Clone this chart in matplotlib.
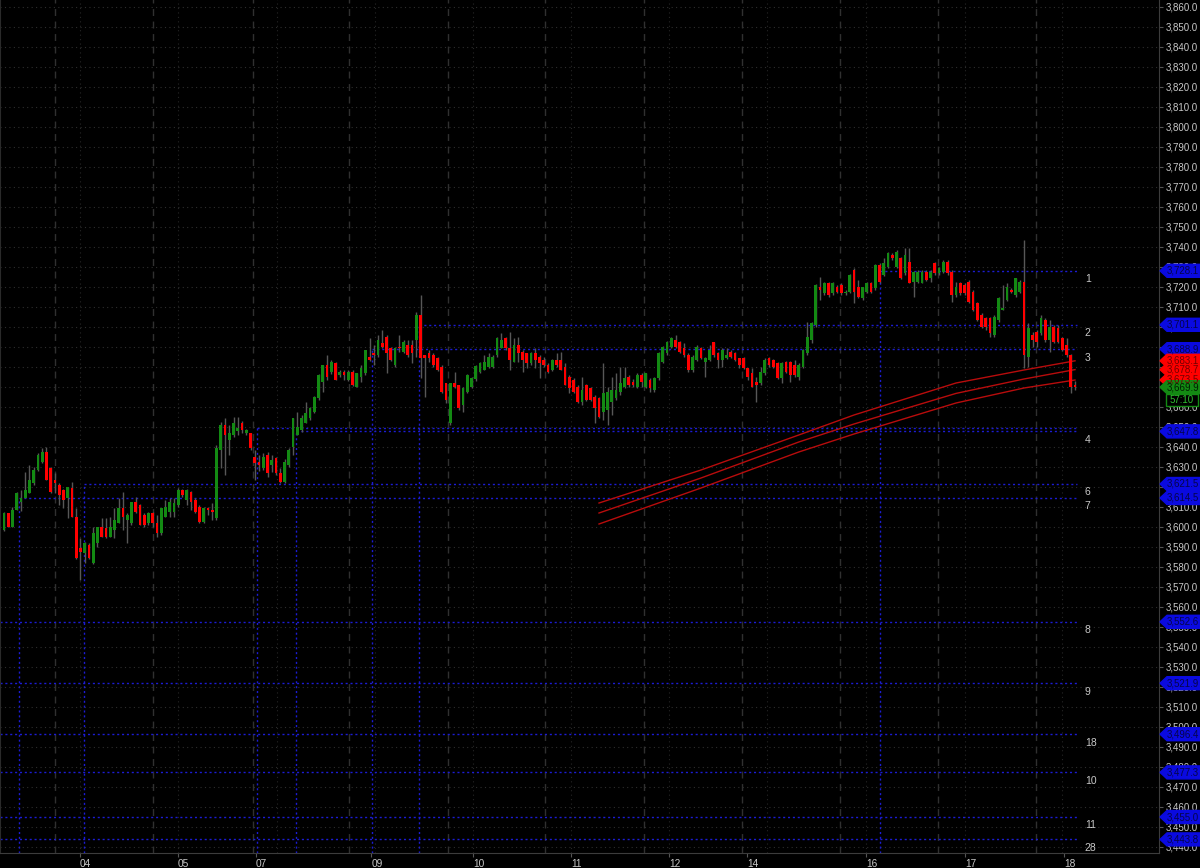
import numpy as np
import matplotlib
matplotlib.use("Agg")
import matplotlib.pyplot as plt
from matplotlib.patches import Polygon, Rectangle

plt.rcParams['font.family'] = ['Liberation Sans Narrow', 'Liberation Sans', 'DejaVu Sans']

# candles, left to right (one bar every 4.25 px)
opens = [
    3598.5, 3606.8, 3600.2, 3608.5, 3612.5, 3614.3, 3616.8, 3621.8, 3628.5, 3632.7,
    3637.7, 3629.3, 3623.5, 3621.0, 3618.5, 3614.3, 3619.3, 3605.2, 3589.3, 3586.8,
    3591.0, 3581.8, 3591.8, 3600.2, 3599.3, 3595.2, 3598.5, 3601.8, 3609.3, 3603.5,
    3601.8, 3612.7, 3611.0, 3606.0, 3601.8, 3606.8, 3601.8, 3596.8, 3605.2, 3607.7,
    3607.7, 3611.0, 3618.5, 3613.5, 3617.7, 3613.5, 3610.2, 3602.7, 3609.7, 3608.5,
    3604.3,
    3638.5, 3651.0, 3643.5, 3646.0, 3648.0, 3651.8, 3646.8, 3646.8, 3635.2, 3632.7,
    3629.3, 3636.0, 3631.0, 3634.3, 3626.8, 3622.7, 3631.0, 3640.2, 3646.0, 3648.5,
    3651.8, 3654.3, 3657.7, 3664.3, 3672.7, 3681.0, 3677.7, 3681.8, 3676.0, 3677.7,
    3673.5, 3677.7, 3670.2, 3675.2, 3676.8, 3685.0, 3687.0, 3686.0, 3692.0, 3695.2,
    3689.3, 3681.0, 3690.2, 3687.7, 3691.0, 3691.0, 3693.5, 3706.0, 3686.0,
    3687.0, 3686.0, 3684.3, 3680.2, 3671.8, 3651.8, 3672.0, 3671.0, 3661.0, 3667.7,
    3670.2, 3673.8, 3677.7, 3678.5, 3680.2, 3680.2, 3686.0, 3689.3, 3694.3, 3689.3,
    3682.7, 3691.0, 3687.7, 3686.8, 3681.8, 3686.8, 3685.2, 3683.5, 3681.0, 3678.5,
    3683.5, 3683.5, 3680.2, 3675.2, 3673.5, 3670.2, 3662.7, 3671.0, 3669.3, 3665.2,
    3664.3, 3657.7, 3658.5, 3662.7, 3664.3, 3667.7, 3670.2, 3675.2, 3672.7, 3670.2,
    3676.0,
    3670.2, 3673.5, 3668.5, 3674.3, 3682.7, 3686.8, 3690.2, 3693.5, 3692.7, 3689.3,
    3686.0, 3678.5, 3683.5, 3689.3, 3682.7, 3683.5, 3692.7, 3686.8, 3683.5, 3684.3,
    3687.7, 3686.8, 3684.3, 3684.3, 3679.3, 3676.8, 3672.7, 3671.8, 3676.8, 3684.3,
    3683.5, 3681.8, 3674.3, 3682.7, 3682.7, 3681.0, 3675.2, 3680.2, 3686.8, 3693.5,
    3701.0, 3720.2, 3716.8, 3721.8, 3716.8, 3720.2, 3721.0, 3716.8, 3717.7, 3728.5,
    3720.2, 3714.3, 3717.7, 3721.8, 3719.3, 3731.0, 3726.0, 3730.2, 3736.0, 3730.2,
    3734.3, 3726.8, 3732.7, 3722.7, 3722.7, 3722.0, 3727.7, 3724.3, 3731.8, 3726.8,
    3727.7, 3732.7, 3727.7, 3716.0, 3721.8, 3721.0, 3722.7, 3717.7, 3711.8, 3706.0,
    3704.3, 3704.3, 3696.0, 3703.5, 3708.5, 3713.5, 3718.5, 3716.0, 3717.7, 3722.7,
    3685.2, 3696.0, 3697.7, 3696.8, 3703.5, 3693.5, 3700.2, 3699.3, 3694.3, 3691.0,
    3686.0, 3671.2,
]
closes = [
    3606.8, 3600.2, 3608.5, 3616.8, 3614.5, 3618.5, 3623.5, 3628.5, 3636.0, 3637.7,
    3623.5, 3617.7, 3621.8, 3616.0, 3613.5, 3620.2, 3605.2, 3584.3, 3587.5, 3591.8,
    3584.3, 3596.8, 3600.2, 3595.2, 3595.2, 3600.2, 3603.5, 3609.3, 3605.2, 3606.0,
    3612.7, 3607.7, 3601.0, 3601.0, 3606.8, 3601.8, 3596.8, 3609.3, 3610.2, 3612.7,
    3611.8, 3618.5, 3616.0, 3618.5, 3612.7, 3607.7, 3602.7, 3609.3, 3608.5, 3607.7,
    3639.3,
    3651.0, 3646.0, 3646.8, 3651.8, 3649.7, 3648.5, 3648.5, 3639.3, 3631.8, 3631.0,
    3635.2, 3626.8, 3633.5, 3626.8, 3622.7, 3632.7, 3638.5, 3654.3, 3650.2, 3654.3,
    3656.8, 3659.3, 3665.2, 3676.0, 3681.0, 3675.2, 3682.7, 3673.5, 3677.7, 3676.0,
    3677.7, 3671.0, 3676.8, 3679.3, 3688.5, 3683.5, 3686.0, 3693.5, 3690.2, 3686.8,
    3683.5, 3689.3, 3689.3, 3692.7, 3686.0, 3686.8, 3706.0, 3684.3, 3684.3,
    3684.5, 3681.0, 3678.5, 3667.7, 3663.5, 3671.8, 3670.2, 3659.3, 3669.3, 3676.0,
    3674.3, 3680.5, 3681.8, 3682.7, 3685.2, 3685.2, 3694.3, 3693.5, 3689.3, 3683.5,
    3691.0, 3686.8, 3683.5, 3681.8, 3686.8, 3683.5, 3681.8, 3681.0, 3677.7, 3683.5,
    3681.0, 3678.5, 3671.0, 3669.3, 3667.7, 3662.7, 3668.5, 3663.5, 3663.5, 3659.3,
    3655.2, 3666.8, 3667.7, 3668.5, 3668.5, 3671.8, 3674.3, 3671.0, 3671.0, 3676.0,
    3672.7,
    3676.8, 3669.3, 3674.3, 3686.8, 3690.2, 3692.7, 3694.3, 3690.2, 3687.7, 3686.0,
    3678.5, 3685.2, 3690.2, 3684.3, 3684.3, 3688.5, 3686.0, 3683.5, 3688.5, 3686.0,
    3685.2, 3683.5, 3681.0, 3679.3, 3675.2, 3670.2, 3671.0, 3677.7, 3683.5, 3681.0,
    3680.2, 3674.3, 3681.8, 3677.7, 3676.0, 3676.0, 3681.0, 3688.5, 3695.2, 3701.8,
    3721.0, 3718.5, 3721.8, 3716.0, 3721.8, 3717.7, 3716.8, 3717.7, 3726.0, 3717.7,
    3715.2, 3720.2, 3721.8, 3717.7, 3731.0, 3722.7, 3731.8, 3736.8, 3734.3, 3737.7,
    3724.3, 3736.0, 3721.8, 3727.5, 3727.7, 3727.7, 3723.5, 3727.7, 3726.8, 3729.3,
    3732.7, 3726.8, 3716.0, 3720.2, 3716.8, 3716.8, 3712.7, 3708.5, 3703.5, 3700.2,
    3700.2, 3696.8, 3705.2, 3714.3, 3709.3, 3720.2, 3717.7, 3724.3, 3722.7, 3686.0,
    3699.3, 3693.5, 3692.7, 3704.3, 3693.5, 3700.2, 3692.7, 3692.7, 3688.5, 3686.0,
    3670.2, 3669.9,
]
highs = [
    3607.7, 3607.2, 3610.2, 3617.7, 3618.5, 3627.7, 3631.0, 3630.0, 3637.0, 3639.3,
    3640.2, 3630.0, 3626.8, 3621.8, 3619.0, 3620.2, 3622.7, 3609.3, 3594.3, 3592.7,
    3592.0, 3600.0, 3600.2, 3604.3, 3604.3, 3605.2, 3609.3, 3614.3, 3617.7, 3606.8,
    3612.7, 3615.2, 3611.5, 3606.8, 3607.5, 3607.5, 3606.0, 3609.3, 3613.5, 3614.3,
    3614.3, 3619.3, 3619.0, 3619.0, 3618.0, 3614.3, 3611.0, 3610.0, 3610.2, 3611.8,
    3641.0,
    3652.7, 3654.3, 3651.0, 3655.2, 3655.2, 3653.0, 3649.0, 3647.0, 3638.5, 3636.0,
    3636.8, 3637.7, 3636.0, 3635.2, 3629.3, 3634.0, 3639.3, 3654.3, 3657.7, 3656.0,
    3662.7, 3660.2, 3665.5, 3676.5, 3681.0, 3686.0, 3683.5, 3682.7, 3678.5, 3678.5,
    3678.5, 3678.5, 3677.0, 3681.0, 3688.5, 3694.3, 3691.0, 3696.0, 3698.5, 3696.0,
    3690.2, 3690.0, 3696.0, 3693.5, 3693.5, 3693.5, 3707.7, 3716.0, 3686.0,
    3688.5, 3687.0, 3685.0, 3681.0, 3672.0, 3672.0, 3677.7, 3671.0, 3670.0, 3676.5,
    3675.2, 3681.0, 3682.7, 3686.0, 3686.8, 3686.0, 3695.0, 3696.8, 3695.0, 3697.7,
    3694.3, 3695.2, 3688.5, 3687.0, 3687.5, 3689.3, 3686.0, 3685.0, 3682.0, 3684.0,
    3686.8, 3687.7, 3681.8, 3676.0, 3674.3, 3671.0, 3675.2, 3671.5, 3670.0, 3666.0,
    3665.0, 3681.8, 3670.0, 3675.2, 3676.8, 3680.2, 3680.2, 3676.0, 3674.0, 3677.0,
    3676.8,
    3677.0, 3674.3, 3675.0, 3687.7, 3690.5, 3693.0, 3695.2, 3696.0, 3693.0, 3691.8,
    3687.0, 3686.0, 3691.0, 3690.0, 3685.2, 3691.0, 3692.7, 3687.5, 3689.3, 3689.3,
    3688.5, 3687.5, 3684.3, 3685.0, 3679.3, 3679.3, 3675.2, 3680.0, 3684.3, 3685.0,
    3684.0, 3682.7, 3682.7, 3683.0, 3683.0, 3683.5, 3681.8, 3689.0, 3702.7, 3702.7,
    3721.5, 3725.2, 3722.5, 3722.5, 3722.5, 3721.0, 3721.8, 3718.5, 3726.5, 3729.3,
    3723.5, 3720.2, 3722.5, 3722.5, 3731.5, 3731.8, 3734.3, 3737.5, 3737.0, 3738.5,
    3735.0, 3739.3, 3739.3, 3728.0, 3728.5, 3728.5, 3728.5, 3728.5, 3732.5, 3730.2,
    3733.5, 3733.5, 3728.5, 3722.7, 3722.5, 3722.0, 3723.5, 3718.5, 3712.5, 3706.8,
    3705.0, 3705.0, 3706.0, 3715.0, 3721.0, 3722.0, 3719.5, 3724.5, 3723.5, 3743.5,
    3701.8, 3697.5, 3698.5, 3706.0, 3704.3, 3703.5, 3701.0, 3701.0, 3695.0, 3694.3,
    3686.5, 3673.0,
]
lows = [
    3598.0, 3599.8, 3599.8, 3608.5, 3608.0, 3614.3, 3616.8, 3621.0, 3628.0, 3632.0,
    3623.5, 3617.0, 3616.8, 3611.0, 3609.3, 3604.3, 3605.0, 3584.0, 3573.5, 3581.8,
    3584.0, 3581.5, 3590.0, 3595.0, 3594.3, 3595.0, 3594.3, 3601.8, 3598.5, 3591.8,
    3601.0, 3606.8, 3601.0, 3600.0, 3601.0, 3600.0, 3595.2, 3596.0, 3605.0, 3605.2,
    3605.2, 3610.0, 3615.0, 3611.0, 3608.5, 3607.0, 3602.0, 3602.0, 3606.0, 3603.5,
    3603.5,
    3629.3, 3626.0, 3636.0, 3645.2, 3646.0, 3647.0, 3646.0, 3638.5, 3623.5, 3628.0,
    3628.5, 3625.2, 3627.7, 3626.0, 3622.0, 3622.0, 3630.0, 3636.0, 3646.0, 3647.5,
    3651.8, 3653.5, 3657.0, 3663.5, 3667.7, 3673.5, 3676.5, 3673.5, 3675.0, 3673.5,
    3673.0, 3670.5, 3670.0, 3672.7, 3676.0, 3683.0, 3681.0, 3685.0, 3689.5, 3676.8,
    3683.0, 3680.0, 3687.7, 3687.0, 3685.2, 3681.8, 3685.2, 3674.3, 3665.2,
    3682.7, 3680.0, 3678.0, 3667.0, 3661.8, 3651.0, 3669.5, 3658.5, 3657.7, 3667.0,
    3669.3, 3673.0, 3676.8, 3678.5, 3679.3, 3679.5, 3685.2, 3689.3, 3688.5, 3678.5,
    3682.7, 3682.7, 3677.7, 3679.3, 3681.0, 3679.3, 3674.3, 3680.0, 3676.8, 3678.0,
    3680.2, 3678.5, 3671.0, 3666.8, 3667.0, 3662.0, 3661.0, 3663.0, 3663.0, 3651.8,
    3654.3, 3653.5, 3651.0, 3656.0, 3663.5, 3666.0, 3669.3, 3670.0, 3670.0, 3669.5,
    3670.2,
    3669.3, 3667.7, 3667.7, 3673.5, 3682.0, 3686.0, 3689.5, 3689.5, 3687.0, 3685.0,
    3677.7, 3677.7, 3683.0, 3684.0, 3675.2, 3683.0, 3685.2, 3679.3, 3680.2, 3684.0,
    3684.5, 3683.0, 3679.3, 3679.0, 3673.5, 3670.0, 3662.7, 3671.0, 3676.0, 3680.0,
    3679.5, 3674.0, 3671.8, 3677.0, 3672.7, 3675.2, 3673.5, 3679.5, 3686.0, 3691.8,
    3700.0, 3713.5, 3716.0, 3715.0, 3716.0, 3716.8, 3716.0, 3716.0, 3717.0, 3711.8,
    3714.5, 3713.5, 3717.0, 3717.0, 3718.5, 3721.8, 3725.5, 3729.5, 3733.5, 3729.5,
    3724.0, 3726.0, 3721.8, 3715.2, 3722.0, 3721.8, 3723.0, 3722.7, 3726.0, 3726.0,
    3727.0, 3726.0, 3712.7, 3715.2, 3716.0, 3716.0, 3712.0, 3708.0, 3703.0, 3699.5,
    3698.5, 3695.2, 3695.2, 3702.7, 3708.5, 3713.0, 3717.0, 3715.2, 3717.0, 3679.3,
    3680.2, 3690.2, 3690.2, 3696.0, 3692.7, 3687.7, 3692.0, 3692.0, 3688.0, 3685.2,
    3666.8, 3668.5,
]

# horizontal levels (price, name, bar index where the level starts; None = from the left edge)
level_prices = [3728.1, 3701.1, 3688.9, 3649.5, 3647.8, 3621.5, 3614.5,
                3552.6, 3521.9, 3496.4, 3477.3, 3455.0, 3443.8]
level_names = ["1", "2", "3", "", "4", "6", "7", "8", "9", "18", "10", "11", "28"]
level_start = [206.1, 97.6, 86.6, 59.5, 68.7, 18.8, 3.5,
               None, None, None, None, None, None]

# three red bands on the right
band_x = [140, 164, 187, 200, 224, 240, 252]
band_top = [3612.0, 3628.5, 3646.0, 3656.0, 3672.0, 3678.5, 3683.1]
band_mid = [3607.0, 3624.5, 3642.5, 3651.5, 3666.8, 3674.0, 3678.7]
band_bot = [3601.5, 3619.5, 3637.5, 3646.5, 3662.0, 3669.5, 3673.5]

date_pos = [17.9, 40.9, 59.3, 86.4, 110.4, 133.4, 156.5, 174.8, 202.8, 226.1, 249.4]
date_labels = ["04", "05", "07", "09", "10", "11", "12", "14", "16", "17", "18"]
session_lines = [12, 35.1, 58.6, 81.2, 104.5, 127.3, 150.6, 173.6, 196.7, 219.8, 242.8]
grid_vlines = [17.9, 40.9, 64.2, 87.3, 110.4, 133.4, 156.5, 179.5, 202.8, 226.1, 248.9]

last_price = 3669.9
countdown = "57:10"

BG = "#000000"
GRID = "#2e2e2e"
TXT = "#c8c8c8"
GREEN = "#138a13"
RED = "#ff0000"
BLUE = "#1c1cd2"

fig = plt.figure(figsize=(12, 8.68), dpi=100, facecolor=BG)
ax = fig.add_axes([0, 15 / 868, 1159 / 1200, 853 / 868])
ax.set_facecolor(BG)
ax.set_xlim(-0.94, 271.76)
ax.set_ylim(3437, 3863.5)

# grid
yt = np.arange(3440, 3861, 10)
ax.hlines(yt, -1, 272, colors=GRID, linestyles=(0, (1, 3)), lw=0.8, zorder=0)
ax.vlines(grid_vlines, 3437, 3864, colors="#262626", linestyles=(0, (1, 3)), lw=0.8, zorder=0)
ax.vlines(session_lines, 3437, 3864, colors="#303030", linestyles=(0, (5, 4)), lw=1, zorder=0)

# level lines
for p, s in zip(level_prices, level_start):
    x0 = -1 if s is None else s
    ax.hlines(p, x0, 252.5, colors=BLUE, linestyles=(0, (1.5, 2)), lw=1, zorder=1)
    if s is not None:
        ax.vlines(s, 3437, p, colors=BLUE, linestyles=(0, (1.5, 2)), lw=1, zorder=1)
for p, n in zip(level_prices, level_names):
    if n:
        ax.annotate(n, (254.3, p), xytext=(0, -6), textcoords="offset points",
                    color=TXT, fontsize=7.5, va="center", ha="left")

# bands
for b in (band_top, band_mid, band_bot):
    ax.plot(band_x, b, color="#b80c0c", lw=1, zorder=2)

# candles
o = np.array(opens)
c = np.array(closes)
h = np.maximum(np.array(highs), np.maximum(o, c))
lo = np.minimum(np.array(lows), np.minimum(o, c))
x = np.arange(len(c))
ax.vlines(x, lo, h, colors="#575757", lw=1, zorder=3)
bot = np.minimum(o, c)
hgt = np.abs(c - o)
small = hgt < 0.6
bot[small] = bot[small] - (0.6 - hgt[small]) / 2
hgt[small] = 0.6
cols = [GREEN if cc >= oo else RED for oo, cc in zip(o, c)]
ax.bar(x, hgt, 0.62, bottom=bot, color=cols, lw=0, zorder=4)

# axes styling
ax.spines["top"].set_visible(False)
ax.spines["left"].set_color("#2a2a2a")
ax.spines["right"].set_color("#3c3c3c")
ax.spines["bottom"].set_color("#3c3c3c")
ax.yaxis.tick_right()
ax.set_yticks(yt)
ax.set_yticklabels([f"{v:,.1f}" for v in yt])
ax.tick_params(axis="y", colors=TXT, labelsize=7, length=3, pad=2)
ax.tick_params(axis="y", color="#555555")
ax.set_xticks(date_pos)
ax.set_xticklabels(date_labels)
ax.tick_params(axis="x", colors=TXT, labelsize=7.3, length=3, pad=1.5)
ax.tick_params(axis="x", color="#555555")
for lbl in ax.get_xticklabels():
    lbl.set_ha("left")

fig.canvas.draw()


def py(price):
    return ax.transData.transform((0, price))[1]


def tag(price, text, fc, tc):
    y = py(price)
    pts = [(1160, y), (1167, y + 6.5), (1200, y + 6.5), (1200, y - 6.5), (1167, y - 6.5)]
    fig.add_artist(Polygon(pts, closed=True, fc=fc, ec=fc, transform=None, zorder=5))
    fig.text(1167 / 1200, y / 868, text, color=tc, fontsize=7, va="center", ha="left", zorder=6)


for p in level_prices:
    if p != 3649.5:
        tag(p, f"{p:,.1f}", "#0a0ae0", "#05054a")
for p in (band_top[-1], band_mid[-1], band_bot[-1]):
    tag(p, f"{p:,.1f}", RED, "#700000")
tag(last_price, f"{last_price:,.1f}", GREEN, "#002000")

yb = py(last_price) - 13
fig.add_artist(Rectangle((1166, yb - 6), 32, 12, fc=BG, ec=GREEN, lw=1, transform=None, zorder=5))
fig.text(1182 / 1200, yb / 868, countdown, color="#2fbf2f", fontsize=7, va="center", ha="center", zorder=6)

fig.savefig("out.png", dpi=100, facecolor=BG)
